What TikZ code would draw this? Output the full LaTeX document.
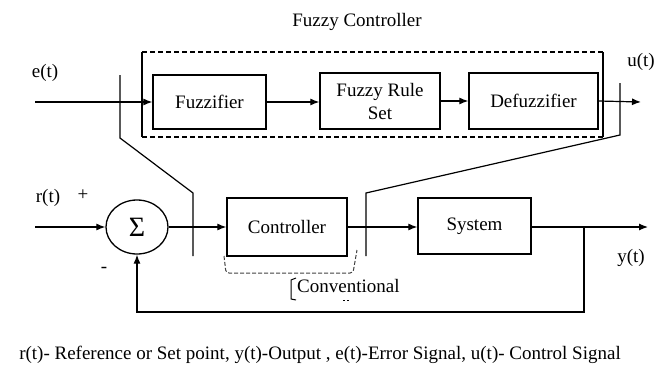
\documentclass[tikz,border=0pt]{standalone}
\usepackage{fontspec}
\setmainfont{Liberation Serif}
\usetikzlibrary{arrows.meta,shapes.geometric}

\tikzset{
  blk/.style={draw, line width=1.3pt, minimum width=#1, inner sep=0pt, align=center,
              font=\fontsize{19}{23}\selectfont},
  sig/.style={line width=1.2pt, -{Latex[length=9pt,width=7pt]}},
  wire/.style={line width=1.2pt},
  lbl/.style={font=\fontsize{19}{20}\selectfont, inner sep=0pt},
  dsh/.style={line width=1.2pt, dash pattern=on 5pt off 3pt},
}

\begin{document}
\begin{tikzpicture}[x=1pt,y=-1pt]
\useasboundingbox (0,0) rectangle (662,367);

% fuzzy controller blocks
\node[blk=113pt, minimum height=54pt] (fuzz) at (209.5,102) {Fuzzifier};
\node[blk=120pt, minimum height=56pt] (rule) at (380,101) {Fuzzy Rule\\Set};
\node[blk=129pt, minimum height=56pt] (defuz) at (533.5,101) {Defuzzifier};

% enclosure of the fuzzy controller
\coordinate (fcTL) at (142,52);
\coordinate (fcTR) at (603,52);
\coordinate (fcBL) at (142,137);
\coordinate (fcBR) at (603,137);
\draw[wire] (fcTL) -- (fcBL);
\draw[wire] (fcTR) -- (fcBR);
\draw[dsh] (fcTL) -- (fcTR);
\draw[dsh] (fcBL) -- (fcBR);
\node[lbl] (fctitle) at (357,22) {Fuzzy Controller};

% fuzzy path signals
\coordinate (ein) at (35,102);
\coordinate (uout) at (641,102);
\draw[sig] (ein) -- (fuzz.west);
\draw[sig] (fuzz.east) -- (rule.west |- fuzz.east);
\draw[sig] (rule.east) -- (defuz.west);
\draw[sig] (defuz.east) -- (uout);
\node[lbl] (elbl) at (45,73) {e(t)};
\node[lbl] (ulbl) at (641,62) {u(t)};

% loop blocks
\node[draw, ellipse, line width=1.3pt, minimum width=62pt, minimum height=54pt, inner sep=0pt,
      font=\fontsize{28}{28}\selectfont] (sum) at (137,227) {Σ};
\node[blk=120pt, minimum height=58pt] (ctrl) at (287,227) {Controller};
\node[blk=113pt, minimum height=56pt] (sys) at (474.5,226) {System};

\coordinate (rin) at (35,227);
\coordinate (yout) at (648,227);
\coordinate (tap) at (584,227);
\coordinate (fbR) at (584,312);
\coordinate (fbL) at (137,312);
\draw[sig] (rin) -- (sum.west);
\draw[sig] (sum.east) -- (ctrl.west);
\draw[sig] (ctrl.east) -- (sys.west |- ctrl.east);
\draw[sig] (sys.east |- tap) -- (yout);
\draw[sig] (tap) -- (fbR) -- (fbL) -- (sum.south);

\node[lbl] (rlbl) at (48,198) {r(t)};
\node[lbl] (plus) at (83,195) {+};
\node[lbl] (minus) at (104,270) {-};
\node[lbl] (ylbl) at (631,258) {y(t)};

% switch-over markers joining the two structures
\coordinate (sL1) at (120,75);
\coordinate (sL2) at (120,138);
\coordinate (sL3) at (193,193);
\coordinate (sL4) at (193,256);
\draw[wire] (sL1) -- (sL2) -- (sL3) -- (sL4);
\coordinate (sR1) at (620,83);
\coordinate (sR2) at (620,135);
\coordinate (sR3) at (366,193);
\coordinate (sR4) at (366,256);
\draw[wire] (sR1) -- (sR2) -- (sR3) -- (sR4);

% conventional controller bracket
\coordinate (cv1) at (224,256);
\coordinate (cv2) at (226,273);
\coordinate (cv3) at (353,273);
\coordinate (cv4) at (357,250);
\draw[line width=1pt, dash pattern=on 4pt off 2pt, black!75, rounded corners=3pt]
  (cv1) -- (cv2) -- (cv3) -- (cv4);
\coordinate (br1) at (296,278);
\coordinate (br2) at (291,280);
\coordinate (br3) at (291,299);
\coordinate (br4) at (296,300);
\draw[line width=1pt] (br1) -- (br2) -- (br3) -- (br4);
\node[lbl, anchor=west] (conv) at (297,286) {Conventional};
\coordinate (tk1) at (343,300);
\coordinate (tk2) at (349,300);
\draw[line width=1pt, dash pattern=on 2pt off 2pt] (tk1) -- (tk2);

% legend
\node[lbl] (legend) at (320,355) {r(t)- Reference or Set point, y(t)-Output , e(t)-Error Signal, u(t)- Control Signal};
\end{tikzpicture}
\end{document}
